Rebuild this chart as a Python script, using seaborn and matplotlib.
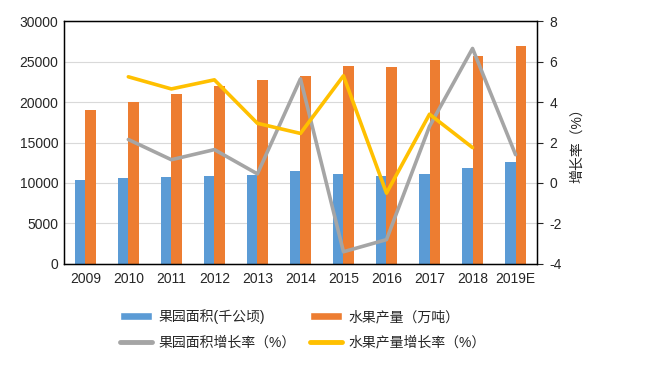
import numpy as np
import pandas as pd
import matplotlib
matplotlib.use("Agg")
import matplotlib.pyplot as plt
import seaborn as sns
from matplotlib.patches import Patch
from matplotlib.lines import Line2D

# data
years = ["2009", "2010", "2011", "2012", "2013", "2014", "2015", "2016", "2017", "2018", "2019E"]
orchard_area = [10400, 10600, 10780, 10900, 11000, 11500, 11100, 10870, 11150, 11850, 12600]
fruit_output = [19000, 20000, 21000, 22000, 22700, 23200, 24450, 24320, 25200, 25700, 26900]
area_growth = [np.nan, 2.15, 1.15, 1.65, 0.45, 5.15, -3.4, -2.8, 2.8, 6.65, 1.4]
output_growth = [np.nan, 5.25, 4.65, 5.1, 2.95, 2.45, 5.3, -0.5, 3.4, 1.75, np.nan]

area_label = "果园面积(千公顷)"
output_label = "水果产量（万吨）"
area_growth_label = "果园面积增长率（%）"
output_growth_label = "水果产量增长率（%）"

c_blue = "#5B9BD5"
c_orange = "#ED7D31"
c_gray = "#A5A5A5"
c_yellow = "#FFC000"

sns.set_style("white")
plt.rcParams['font.family'] = ['Liberation Sans', 'Noto Sans CJK SC', 'DejaVu Sans']
plt.rcParams['axes.unicode_minus'] = False

df = pd.DataFrame({
    "year": years * 2,
    "series": [area_label] * len(years) + [output_label] * len(years),
    "value": orchard_area + fruit_output,
})

fig = plt.figure(figsize=(6.51, 3.65), dpi=100)
ax = fig.add_axes([0.098, 0.277, 0.727, 0.665])

sns.barplot(data=df, x="year", y="value", hue="series", hue_order=[area_label, output_label],
            palette=[c_blue, c_orange], width=0.5, saturation=1, legend=False,
            linewidth=0, edgecolor="none", ax=ax)
ax.set_xlabel("")
ax.set_ylabel("")
ax.set_ylim(0, 30000)
ax.set_yticks(np.arange(0, 30001, 5000))
ax.yaxis.grid(True, color="#D9D9D9", lw=0.8)
ax.set_axisbelow(True)
ax.tick_params(axis="y", length=0, labelsize=10, pad=4)
ax.tick_params(axis="x", length=0, labelsize=10, pad=6)
ax.set_xticks(np.arange(len(years)) + 0.5, minor=True)
ax.tick_params(axis="x", which="minor", direction="in", length=4, width=0.8, color="black")
for s in ax.spines.values():
    s.set_visible(True)
    s.set_color("black")
    s.set_linewidth(1)

ax2 = ax.twinx()
pos = np.arange(len(years))
sns.lineplot(x=pos, y=area_growth, ax=ax2, color=c_gray, lw=2.6)
sns.lineplot(x=pos, y=output_growth, ax=ax2, color=c_yellow, lw=2.6)
ax2.set_ylim(-4, 8)
ax2.set_yticks(np.arange(-4, 9, 2))
ax2.tick_params(axis="y", direction="out", length=4, width=0.8, labelsize=10, pad=5)
ax2.set_ylabel("增长率（%）", fontsize=10, labelpad=6)
ax.set_xlim(-0.5, len(years) - 0.5)
for s in ax2.spines.values():
    s.set_color("black")

handles = [
    Patch(facecolor=c_blue, label=area_label),
    Line2D([], [], color=c_gray, lw=3.5, label=area_growth_label),
    Patch(facecolor=c_orange, label=output_label),
    Line2D([], [], color=c_yellow, lw=3.5, label=output_growth_label),
]
fig.legend(handles=handles, ncol=2, loc="center", bbox_to_anchor=(0.465, 0.098),
           frameon=False, fontsize=10, handlelength=2.3, handleheight=0.55,
           labelspacing=0.8, columnspacing=1.0, handletextpad=0.5)

fig.savefig("out.png", dpi=100)
